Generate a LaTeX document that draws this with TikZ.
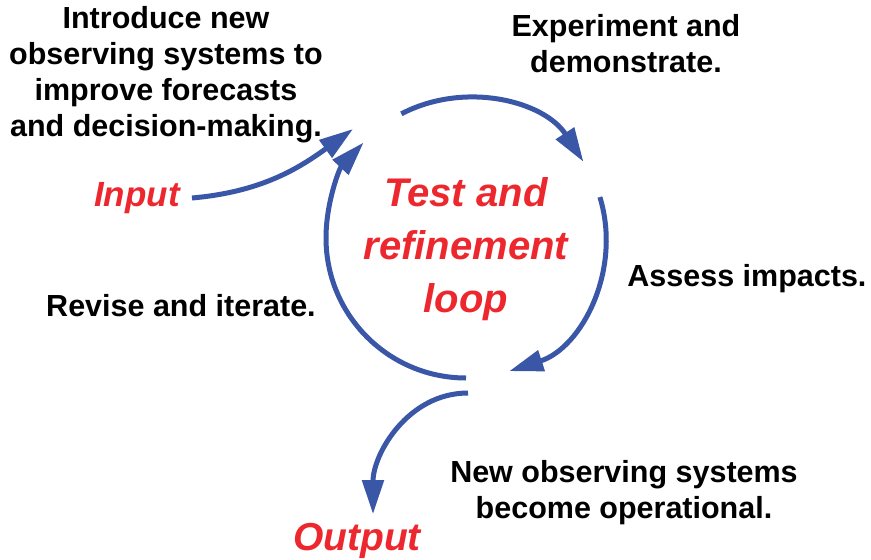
\documentclass[tikz,border=0pt]{standalone}
\usepackage{fontspec}
\setmainfont{Liberation Sans}
\usetikzlibrary{arrows.meta}
\definecolor{loopblue}{RGB}{58,86,166}
\definecolor{loopred}{RGB}{236,40,46}
\tikzset{
  steptext/.style={align=center,inner sep=0pt,font=\fontsize{30.5}{36}\selectfont\bfseries},
  redtext/.style={align=center,inner sep=0pt,text=loopred,font=\fontsize{40}{53}\selectfont\bfseries\itshape},
  endtext/.style={redtext,font=\fontsize{35}{42}\selectfont\bfseries\itshape},
  flow/.style={draw=loopblue,line width=5pt,-{Triangle[length=34pt,width=21pt]}}
}

\begin{document}
\begin{tikzpicture}[x=1pt,y=1pt]
  \useasboundingbox (0,0) rectangle (871,-560);
  % The step labels around the loop.
  \node[steptext] (intro) at (166,-75) {Introduce new\\observing systems to\\improve forecasts\\and decision-making.};
  \node[steptext] (expt) at (626,-44) {Experiment and\\demonstrate.};
  \node[steptext] (assess) at (747,-279) {Assess impacts.};
  \node[steptext] (revise) at (181,-306) {Revise and iterate.};
  \node[steptext] (oper) at (624,-493) {New observing systems\\become operational.};
  \node[redtext] (loop) at (466,-249) {Test and\\refinement\\loop};
  \node[endtext] (input) at (137,-198) {Input};
  \node[endtext,font=\fontsize{39}{46}\selectfont\bfseries\itshape] (output) at (357,-541) {Output};
  % The loop itself: three arcs round the hub, all clockwise.
  \coordinate (hub) at (466,-238);
  \coordinate (intip) at (353,-129);
  \coordinate (outstart) at (468,-393);
  \draw[flow] ([shift={(117.5:140)}]hub) arc[start angle=117.5,end angle=33,radius=140];
  \draw[flow] ([shift={(17:140)}]hub) arc[start angle=17,end angle=-72,radius=140];
  \draw[flow] ([shift={(270:140)}]hub) arc[start angle=270,end angle=137,radius=140];
  \draw[flow] ([xshift=12pt]input.east) to[out=5,in=216] (intip);
  \draw[flow] (outstart) to[out=180,in=90] ([xshift=16pt,yshift=9pt]output.north);
\end{tikzpicture}
\end{document}
